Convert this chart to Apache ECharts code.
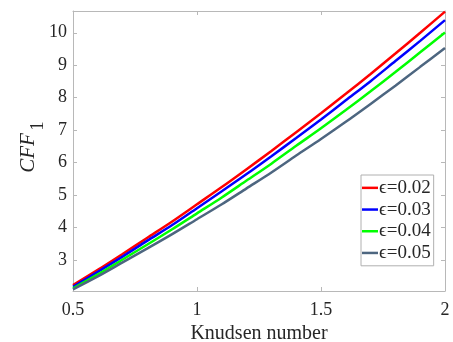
<!DOCTYPE html>
<html>
<head>
<meta charset="utf-8">
<script src="https://cdn.jsdelivr.net/npm/echarts@6/dist/echarts.min.js"></script>
<style>
  html, body { margin: 0; padding: 0; background: #fff; }
  #chart { width: 453px; height: 342px; }
</style>
</head>
<body>
<div id="chart"></div>
<script>
// Knudsen number samples
const knudsen = [0.5, 0.6, 0.7, 0.8, 0.9, 1.0, 1.1, 1.2, 1.3, 1.4, 1.5, 1.6, 1.7, 1.8, 1.9, 2.0];

// CFF_1 for each epsilon
const eps002 = [2.23, 2.70, 3.19, 3.69, 4.19, 4.72, 5.25, 5.80, 6.36, 6.94, 7.52, 8.12, 8.73, 9.36, 10.00, 10.65];
const eps003 = [2.18, 2.64, 3.11, 3.60, 4.08, 4.60, 5.12, 5.65, 6.20, 6.76, 7.33, 7.92, 8.51, 9.13, 9.75, 10.39];
const eps004 = [2.13, 2.56, 3.02, 3.48, 3.95, 4.44, 4.93, 5.45, 5.97, 6.52, 7.06, 7.62, 8.20, 8.79, 9.40, 10.01];
const eps005 = [2.10, 2.50, 2.93, 3.36, 3.80, 4.26, 4.72, 5.21, 5.70, 6.22, 6.73, 7.26, 7.81, 8.37, 8.95, 9.53];

const seriesNames = ['\u03F5=0.02', '\u03F5=0.03', '\u03F5=0.04', '\u03F5=0.05'];
const seriesValues = [eps002, eps003, eps004, eps005];
const seriesColors = ['#ff0000', '#0000ff', '#00ff00', '#4d6680'];

const yTicks = [3, 4, 5, 6, 7, 8, 9, 10];

const serif = '"Liberation Serif", "Times New Roman", serif';
const axisColor = '#b8b8b8';
const textColor = '#262626';

const chart = echarts.init(document.getElementById('chart'));

const pairs = (ys) => knudsen.map((x, i) => [x, ys[i]]);

const xBase = {
  type: 'value', min: 0.5, max: 2, interval: 0.5,
  axisLine: { show: true, lineStyle: { color: axisColor, width: 1 } },
  axisTick: { show: true, inside: true, length: 4, lineStyle: { color: axisColor } },
  splitLine: { show: false }
};
const yBase = {
  type: 'value', min: 2.05, max: 10.67,
  axisLine: { show: true, lineStyle: { color: axisColor, width: 1 } },
  axisTick: { show: true, inside: true, length: 4, customValues: yTicks, lineStyle: { color: axisColor } },
  splitLine: { show: false }
};

chart.setOption({
  animation: false,
  backgroundColor: '#ffffff',
  grid: { left: 73, right: 8, top: 11, bottom: 51, containLabel: false, outerBoundsMode: 'none' },
  xAxis: [
    Object.assign({}, xBase, {
      position: 'bottom',
      name: 'Knudsen number', nameLocation: 'middle', nameGap: 29,
      nameTextStyle: { fontFamily: serif, fontSize: 20, color: textColor },
      axisLabel: {
        show: true, margin: 10, fontFamily: serif, fontSize: 18, color: textColor,
        formatter: (v) => String(v)
      }
    }),
    Object.assign({}, xBase, { position: 'top', axisLabel: { show: false } })
  ],
  yAxis: [
    Object.assign({}, yBase, {
      position: 'left',
      axisLabel: {
        show: true, margin: 6, fontFamily: serif, fontSize: 18, color: textColor,
        customValues: yTicks, formatter: (v) => String(v)
      }
    }),
    Object.assign({}, yBase, { position: 'right', axisLabel: { show: false } })
  ],
  legend: {
    orient: 'vertical',
    left: 361, top: 175,
    backgroundColor: '#ffffff',
    borderColor: '#b0b0b0', borderWidth: 1, borderRadius: 0,
    padding: [2, 3, 2, 1],
    icon: 'rect',
    itemWidth: 16, itemHeight: 2.5, itemGap: 0,
    textStyle: { fontFamily: serif, fontSize: 19, lineHeight: 21.7, color: textColor, padding: [0, 0, 0, -4] },
    data: seriesNames
  },
  graphic: [{
    type: 'group',
    x: 28, y: 153,
    rotation: Math.PI / 2,
    children: [
      { type: 'text', x: 0, y: 0,
        style: { text: 'CFF', font: 'italic 21px ' + serif, fill: textColor, align: 'center', verticalAlign: 'middle' } },
      { type: 'text', x: 27, y: 10,
        style: { text: '1', font: '18px ' + serif, fill: textColor, align: 'center', verticalAlign: 'middle' } }
    ]
  }],
  series: seriesNames.map((name, i) => ({
    name: name,
    type: 'line',
    data: pairs(seriesValues[i]),
    smooth: 0.3,
    symbol: 'none',
    color: seriesColors[i],
    lineStyle: { width: 2.5, color: seriesColors[i] }
  }))
});
</script>
</body>
</html>
